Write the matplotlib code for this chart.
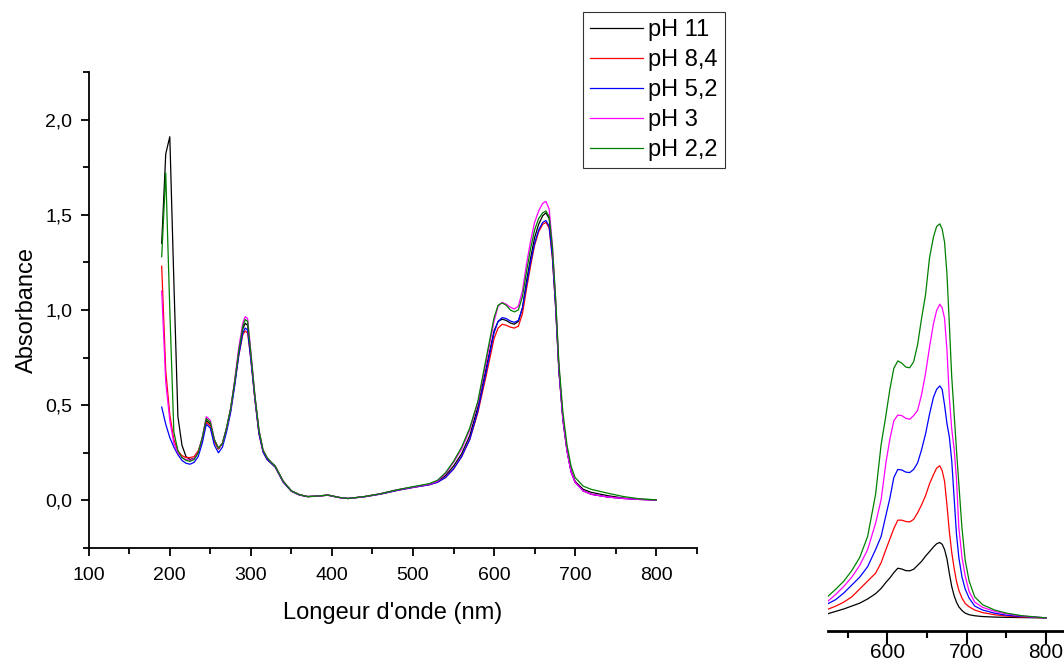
import matplotlib
matplotlib.use("Agg")
import matplotlib.pyplot as plt
from matplotlib.ticker import MultipleLocator, FuncFormatter

plt.rcParams["font.family"] = ["Liberation Sans", "DejaVu Sans"]

# wavelengths (nm) for the main spectra
wl = [190, 195, 200, 205, 210, 215, 220, 225, 230, 235, 240, 245, 250, 255,
      260, 265, 270, 275, 280, 285, 290, 293, 296, 300, 305, 310, 315, 320,
      325, 330, 335, 340, 350, 360, 370, 380, 395, 410, 420, 440, 460, 480,
      500, 520, 530, 540, 550, 560, 570, 580, 590, 600, 605, 610, 615, 620,
      625, 630, 635, 640, 645, 650, 655, 660, 664, 668, 672, 676, 680, 685,
      690, 695, 700, 710, 720, 740, 760, 780, 800]

ph11 = [1.35, 1.82, 1.91, 1.15, 0.44, 0.29, 0.23, 0.215, 0.22, 0.25, 0.32, 0.42, 0.40, 0.31,
        0.27, 0.30, 0.38, 0.48, 0.62, 0.78, 0.90, 0.93, 0.92, 0.76, 0.54, 0.36, 0.26, 0.22,
        0.20, 0.18, 0.14, 0.10, 0.05, 0.03, 0.02, 0.022, 0.028, 0.015, 0.010, 0.020, 0.035, 0.055,
        0.070, 0.085, 0.10, 0.13, 0.18, 0.245, 0.34, 0.49, 0.69, 0.89, 0.94, 0.952, 0.945, 0.932,
        0.925, 0.94, 1.01, 1.15, 1.27, 1.38, 1.45, 1.495, 1.51, 1.48, 1.30, 1.03, 0.69, 0.43,
        0.27, 0.155, 0.10, 0.058, 0.042, 0.025, 0.012, 0.006, 0.003]

ph84 = [1.23, 0.68, 0.45, 0.32, 0.26, 0.235, 0.225, 0.225, 0.23, 0.26, 0.32, 0.41, 0.39, 0.31,
        0.27, 0.30, 0.37, 0.47, 0.61, 0.76, 0.87, 0.89, 0.88, 0.74, 0.53, 0.35, 0.255, 0.215,
        0.195, 0.175, 0.135, 0.095, 0.048, 0.028, 0.02, 0.022, 0.027, 0.014, 0.010, 0.019, 0.033, 0.052,
        0.068, 0.082, 0.095, 0.12, 0.165, 0.23, 0.32, 0.46, 0.65, 0.85, 0.905, 0.925, 0.92, 0.91,
        0.905, 0.915, 0.98, 1.11, 1.23, 1.34, 1.41, 1.45, 1.46, 1.43, 1.27, 1.01, 0.68, 0.42,
        0.26, 0.15, 0.095, 0.05, 0.032, 0.018, 0.010, 0.005, 0.002]

ph52 = [0.49, 0.40, 0.33, 0.28, 0.24, 0.21, 0.195, 0.19, 0.20, 0.23, 0.30, 0.40, 0.38, 0.29,
        0.25, 0.28, 0.36, 0.46, 0.60, 0.76, 0.88, 0.905, 0.895, 0.74, 0.53, 0.35, 0.255, 0.215,
        0.195, 0.175, 0.135, 0.095, 0.048, 0.028, 0.02, 0.022, 0.027, 0.014, 0.010, 0.019, 0.033, 0.052,
        0.068, 0.082, 0.095, 0.12, 0.165, 0.23, 0.32, 0.47, 0.67, 0.88, 0.94, 0.96, 0.955, 0.942,
        0.935, 0.945, 1.01, 1.13, 1.25, 1.35, 1.42, 1.46, 1.47, 1.44, 1.28, 1.01, 0.68, 0.42,
        0.26, 0.15, 0.095, 0.05, 0.032, 0.018, 0.010, 0.005, 0.002]

ph3 = [1.10, 0.62, 0.42, 0.30, 0.25, 0.225, 0.215, 0.21, 0.22, 0.25, 0.33, 0.44, 0.42, 0.32,
       0.275, 0.30, 0.38, 0.48, 0.63, 0.80, 0.93, 0.965, 0.955, 0.78, 0.55, 0.37, 0.265, 0.225,
       0.20, 0.18, 0.14, 0.10, 0.05, 0.03, 0.02, 0.022, 0.028, 0.015, 0.010, 0.020, 0.035, 0.055,
       0.070, 0.085, 0.10, 0.14, 0.20, 0.27, 0.37, 0.51, 0.72, 0.94, 1.02, 1.04, 1.03, 1.015,
       1.005, 1.02, 1.10, 1.24, 1.36, 1.46, 1.52, 1.56, 1.57, 1.53, 1.34, 1.05, 0.70, 0.43,
       0.26, 0.15, 0.095, 0.05, 0.032, 0.018, 0.010, 0.005, 0.002]

ph22 = [1.28, 1.72, 1.00, 0.36, 0.26, 0.225, 0.21, 0.205, 0.215, 0.25, 0.33, 0.43, 0.41, 0.32,
        0.275, 0.30, 0.38, 0.48, 0.62, 0.78, 0.91, 0.95, 0.94, 0.77, 0.55, 0.37, 0.265, 0.225,
        0.20, 0.18, 0.14, 0.10, 0.05, 0.03, 0.02, 0.022, 0.028, 0.015, 0.010, 0.020, 0.035, 0.055,
        0.072, 0.088, 0.105, 0.145, 0.205, 0.28, 0.38, 0.52, 0.74, 0.96, 1.025, 1.037, 1.025, 1.0,
        0.99, 1.0, 1.07, 1.20, 1.32, 1.42, 1.48, 1.51, 1.52, 1.49, 1.33, 1.06, 0.72, 0.46,
        0.29, 0.18, 0.12, 0.075, 0.058, 0.038, 0.020, 0.008, 0.003]

labels = ["pH 11", "pH 8,4", "pH 5,2", "pH 3", "pH 2,2"]
colors = ["black", "red", "blue", "magenta", "green"]

# inset: visible band, separate spectra
wl_vis = [525, 535, 545, 555, 565, 575, 585, 592, 598, 603, 608, 613, 618, 623,
          628, 633, 638, 643, 648, 653, 658, 662, 666, 669, 672, 675, 678, 681,
          684, 687, 690, 694, 698, 703, 710, 720, 735, 750, 770, 800]

vis11 = [0.016, 0.025, 0.034, 0.045, 0.056, 0.072, 0.092, 0.112, 0.135, 0.152, 0.172, 0.189, 0.186, 0.18,
         0.179, 0.185, 0.20, 0.215, 0.235, 0.252, 0.27, 0.282, 0.287, 0.28, 0.26, 0.225, 0.17, 0.12,
         0.085, 0.06, 0.042, 0.028, 0.018, 0.012, 0.008, 0.005, 0.003, 0.002, 0.001, 0.0]
vis84 = [0.033, 0.045, 0.06, 0.08, 0.11, 0.14, 0.17, 0.21, 0.26, 0.30, 0.34, 0.372, 0.372, 0.367,
         0.365, 0.375, 0.40, 0.43, 0.465, 0.51, 0.545, 0.57, 0.579, 0.56, 0.52, 0.43, 0.33, 0.25,
         0.19, 0.14, 0.105, 0.075, 0.055, 0.042, 0.03, 0.02, 0.012, 0.007, 0.003, 0.0]
vis52 = [0.054, 0.07, 0.095, 0.125, 0.155, 0.195, 0.26, 0.31, 0.39, 0.455, 0.534, 0.565, 0.563, 0.555,
         0.553, 0.565, 0.59, 0.64, 0.70, 0.775, 0.84, 0.87, 0.883, 0.87, 0.81, 0.74, 0.69, 0.60,
         0.46, 0.32, 0.23, 0.155, 0.11, 0.075, 0.045, 0.03, 0.018, 0.01, 0.005, 0.0]
vis3 = [0.064, 0.09, 0.12, 0.155, 0.20, 0.26, 0.36, 0.45, 0.59, 0.68, 0.75, 0.772, 0.77, 0.76,
        0.756, 0.77, 0.79, 0.85, 0.93, 1.03, 1.12, 1.17, 1.194, 1.18, 1.14, 1.02, 0.84, 0.72,
        0.645, 0.53, 0.344, 0.23, 0.16, 0.10, 0.06, 0.04, 0.025, 0.015, 0.007, 0.0]
vis22 = [0.082, 0.11, 0.14, 0.18, 0.23, 0.31, 0.47, 0.66, 0.77, 0.87, 0.95, 0.978, 0.97, 0.955,
         0.952, 0.975, 1.04, 1.14, 1.23, 1.37, 1.45, 1.49, 1.50, 1.48, 1.43, 1.31, 1.12, 0.92,
         0.78, 0.64, 0.51, 0.34, 0.22, 0.14, 0.08, 0.05, 0.03, 0.018, 0.008, 0.0]

comma = FuncFormatter(lambda v, p: ("%.1f" % v).replace(".", ","))

fig = plt.figure(figsize=(10.64, 6.64), dpi=100)
ax = fig.add_axes([0.0834, 0.1747, 0.5714, 0.7169])

for y, lab, c in zip([ph11, ph84, ph52, ph3, ph22], labels, colors):
    ax.plot(wl, y, color=c, lw=0.9, label=lab)

ax.set_xlim(100, 850)
ax.set_ylim(-0.25, 2.25)
ax.xaxis.set_major_locator(MultipleLocator(100))
ax.xaxis.set_minor_locator(MultipleLocator(50))
ax.yaxis.set_major_locator(MultipleLocator(0.5))
ax.yaxis.set_minor_locator(MultipleLocator(0.25))
ax.yaxis.set_major_formatter(comma)
ax.spines["top"].set_visible(False)
ax.spines["right"].set_visible(False)
for s in ("left", "bottom"):
    ax.spines[s].set_linewidth(1.3)
ax.tick_params(which="major", direction="out", length=6, width=1.3, labelsize=14, pad=6)
ax.tick_params(axis="x", which="major", pad=8)
ax.tick_params(which="minor", direction="out", length=4, width=1.3)
ax.set_xlabel("Longeur d'onde (nm)", fontsize=17, labelpad=13)
ax.set_ylabel("Absorbance", fontsize=17, labelpad=5)

leg = fig.legend(loc="upper left", bbox_to_anchor=(583 / 1064, 1 - 12 / 664),
                 fontsize=17, frameon=True, fancybox=False, handlelength=2.25,
                 labelspacing=0.34, borderpad=0.3, handletextpad=0.2,
                 borderaxespad=0)
leg.get_frame().set_edgecolor("black")
leg.get_frame().set_linewidth(0.8)

# inset of the visible band
ins = fig.add_axes([828 / 1064, 33 / 664, 0.2273, 0.6476])
for y, c in zip([vis11, vis84, vis52, vis3, vis22], colors):
    ins.plot(wl_vis, y, color=c, lw=0.9)
ins.set_xlim(525, 830)
ins.set_ylim(-0.05, 1.587)
ins.xaxis.set_major_locator(MultipleLocator(100))
ins.xaxis.set_minor_locator(MultipleLocator(50))
for s in ("left", "top", "right"):
    ins.spines[s].set_visible(False)
ins.spines["bottom"].set_linewidth(2)
ins.set_yticks([])
ins.tick_params(which="major", direction="out", length=9, width=1.5, labelsize=15, pad=0)
ins.tick_params(which="minor", direction="out", length=5, width=1.5)

fig.savefig("out.png", dpi=100)
